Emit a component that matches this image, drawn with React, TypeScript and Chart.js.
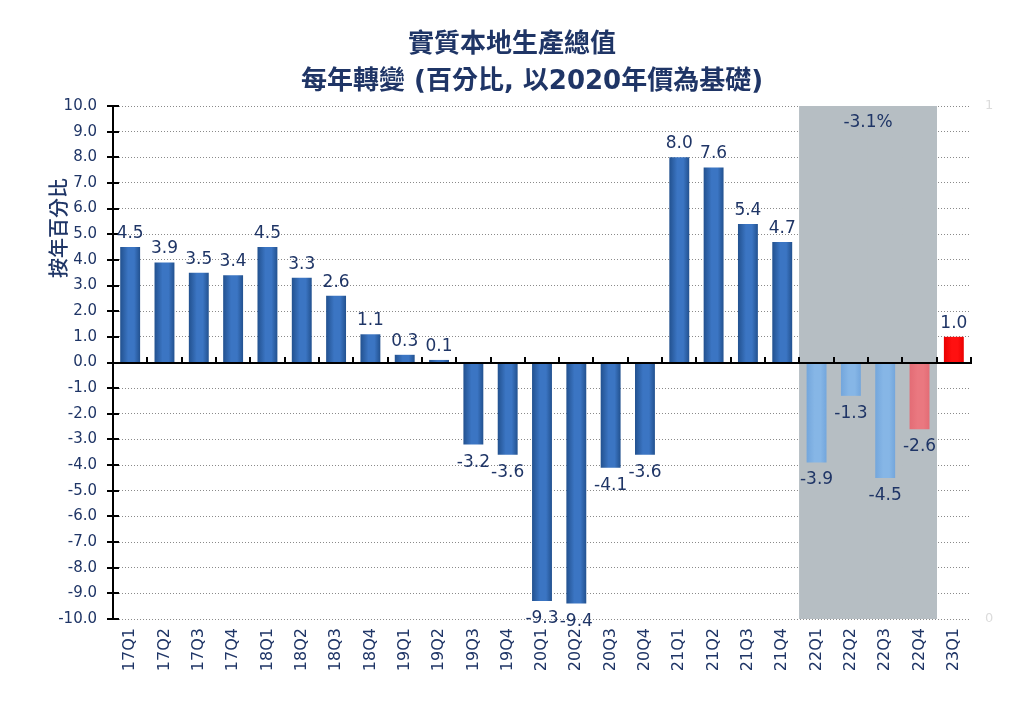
import React, { useEffect, useRef } from "react";
import { Chart, registerables } from "chart.js";

Chart.register(...registerables);

const categories = [
  "17Q1", "17Q2", "17Q3", "17Q4",
  "18Q1", "18Q2", "18Q3", "18Q4",
  "19Q1", "19Q2", "19Q3", "19Q4",
  "20Q1", "20Q2", "20Q3", "20Q4",
  "21Q1", "21Q2", "21Q3", "21Q4",
  "22Q1", "22Q2", "22Q3", "22Q4",
  "23Q1",
];
const growth = [
  4.5, 3.9, 3.5, 3.4,
  4.5, 3.3, 2.6, 1.1,
  0.3, 0.1, -3.2, -3.6,
  -9.3, -9.4, -4.1, -3.6,
  8.0, 7.6, 5.4, 4.7,
  -3.9, -1.3, -4.5, -2.6,
  1.0,
];
// shaded band (secondary 0–1 axis) marking 2022
const band2022 = [
  null, null, null, null,
  null, null, null, null,
  null, null, null, null,
  null, null, null, null,
  null, null, null, null,
  1, 1, 1, 1,
  null,
];
const bandLabel = "-3.1%";
const yTicks = [-10, -9, -8, -7, -6, -5, -4, -3, -2, -1, 0, 1, 2, 3, 4, 5, 6, 7, 8, 9, 10];
const titleLines = ["實質本地生產總值", "每年轉變 (百分比, 以2020年價為基礎)"];
const yTitle = "按年百分比";

const NAVY = "#1f3566";
const NUM_FONT = "'DejaVu Sans', Verdana, sans-serif";
const CJK_FONT = "'Noto Sans CJK TC', 'Noto Sans', sans-serif";
const MIX_FONT = "'DejaVu Sans', 'Noto Sans CJK TC', sans-serif";

function barStyle(i: number): [string, string] {
  const cat = categories[i];
  if (cat === "23Q1") return ["#ea0000", "#ff1010"];
  if (cat === "22Q4") return ["#e36c75", "#ea7880"];
  if (cat.startsWith("22")) return ["#73a6dc", "#86b6e6"];
  return ["#22518f", "#3b75c3"];
}

const overlay = {
  id: "overlay",
  afterDatasetsDraw(chart: any) {
    const ctx = chart.ctx;
    const { left, right, top, bottom } = chart.chartArea;
    const y = chart.scales.y;
    const x = chart.scales.x;
    const zeroY = Math.round(y.getPixelForValue(0));
    ctx.save();
    ctx.strokeStyle = "#000";
    ctx.lineWidth = 2;
    ctx.beginPath();
    ctx.moveTo(left, zeroY);
    ctx.lineTo(right, zeroY);
    ctx.stroke();
    const step = (right - left) / categories.length;
    for (let i = 1; i <= categories.length; i++) {
      const px = Math.round(left + i * step);
      ctx.beginPath();
      ctx.moveTo(px, zeroY - 6);
      ctx.lineTo(px, zeroY + 1);
      ctx.stroke();
    }
    ctx.beginPath();
    ctx.moveTo(left, top);
    ctx.lineTo(left, bottom + 1);
    ctx.stroke();
    yTicks.forEach((v) => {
      const py = Math.round(y.getPixelForValue(v));
      ctx.beginPath();
      ctx.moveTo(left - 6, py);
      ctx.lineTo(left + 6, py);
      ctx.stroke();
    });
    const meta = chart.getDatasetMeta(1);
    ctx.fillStyle = NAVY;
    ctx.font = `17px ${NUM_FONT}`;
    ctx.textAlign = "center";
    meta.data.forEach((el: any, i: number) => {
      const v = growth[i];
      const txt = v.toFixed(1);
      if (v >= 0) {
        ctx.textBaseline = "bottom";
        ctx.fillText(txt, el.x, el.y - 5);
      } else {
        ctx.textBaseline = "top";
        ctx.fillText(txt, el.x, el.y + 9);
      }
    });
    const idx = band2022.map((v, i) => (v != null ? i : -1)).filter((i) => i >= 0);
    if (idx.length) {
      const cx = (x.getPixelForValue(idx[0]) + x.getPixelForValue(idx[idx.length - 1])) / 2;
      ctx.textBaseline = "middle";
      ctx.fillText(bandLabel, cx, top + 17);
    }
    ctx.restore();
  },
  afterDraw(chart: any) {
    const ctx = chart.ctx;
    ctx.save();
    ctx.fillStyle = NAVY;
    ctx.textAlign = "center";
    ctx.textBaseline = "middle";
    ctx.font = `bold 26px ${CJK_FONT}`;
    ctx.fillText(titleLines[0], 512, 42);
    ctx.font = `bold 26px ${MIX_FONT}`;
    ctx.fillText(titleLines[1], 532, 82);
    ctx.translate(58, 228);
    ctx.rotate(-Math.PI / 2);
    ctx.font = `500 20px ${CJK_FONT}`;
    ctx.fillText(yTitle, 0, 0);
    ctx.restore();
  },
};

export default function App() {
  const ref = useRef<HTMLCanvasElement>(null);
  useEffect(() => {
    if (!ref.current) return;
    const chart = new Chart(ref.current, {
      type: "bar",
      data: {
        labels: categories,
        datasets: [
          {
            data: band2022 as any,
            yAxisID: "y1",
            backgroundColor: "#b6bec3",
            borderWidth: 0,
            barPercentage: 1.0,
            categoryPercentage: 1.0,
            grouped: false,
            order: 2,
          },
          {
            data: growth,
            yAxisID: "y",
            grouped: false,
            order: 1,
            barPercentage: 0.58,
            categoryPercentage: 1.0,
            borderWidth: 0,
            backgroundColor: (c: any) => {
              const [edge, mid] = barStyle(c.dataIndex);
              const chart = c.chart;
              if (!chart.chartArea) return edge;
              const xs = chart.scales.x;
              const cx = xs.getPixelForValue(c.dataIndex);
              const w = ((chart.chartArea.right - chart.chartArea.left) / categories.length) * 0.58;
              const g = chart.ctx.createLinearGradient(cx - w / 2, 0, cx + w / 2, 0);
              g.addColorStop(0, edge);
              g.addColorStop(0.4, mid);
              g.addColorStop(0.7, mid);
              g.addColorStop(1, edge);
              return g;
            },
          },
        ],
      },
      options: {
        animation: false,
        responsive: false,
        maintainAspectRatio: false,
        layout: { padding: { top: 106, left: 0, right: 0, bottom: 0 } },
        plugins: { legend: { display: false }, tooltip: { enabled: false }, title: { display: false } },
        scales: {
          x: {
            grid: { display: false, drawTicks: false },
            border: { display: false },
            ticks: {
              minRotation: 90,
              maxRotation: 90,
              padding: 9,
              color: NAVY,
              font: { family: NUM_FONT, size: 16 },
              autoSkip: false,
            },
            afterFit: (s: any) => {
              s.height = 99;
            },
          },
          y: {
            min: -10,
            max: 10,
            position: "left",
            afterBuildTicks: (s: any) => {
              s.ticks = yTicks.map((v) => ({ value: v }));
            },
            ticks: {
              padding: 16,
              color: NAVY,
              font: { family: NUM_FONT, size: 15 },
              callback: (v: any) => Number(v).toFixed(1),
            },
            grid: { color: "#8a8a8a", lineWidth: 1, drawTicks: false },
            border: { display: false, dash: [1, 2] },
            afterFit: (s: any) => {
              s.width = 113;
            },
          },
          y1: {
            min: 0,
            max: 1,
            position: "right",
            grid: { display: false, drawTicks: false },
            border: { display: false },
            ticks: {
              stepSize: 1,
              padding: 14,
              color: "#dcdcdc",
              font: { family: NUM_FONT, size: 13 },
            },
            afterFit: (s: any) => {
              s.width = 53;
            },
          },
        },
      },
      plugins: [overlay],
    });
    return () => chart.destroy();
  }, []);
  return (
    <div style={{ position: "fixed", left: 0, top: 0, width: 1024, height: 718, background: "#fff" }}>
      <canvas ref={ref} width={1024} height={718} style={{ width: 1024, height: 718 }} />
    </div>
  );
}
